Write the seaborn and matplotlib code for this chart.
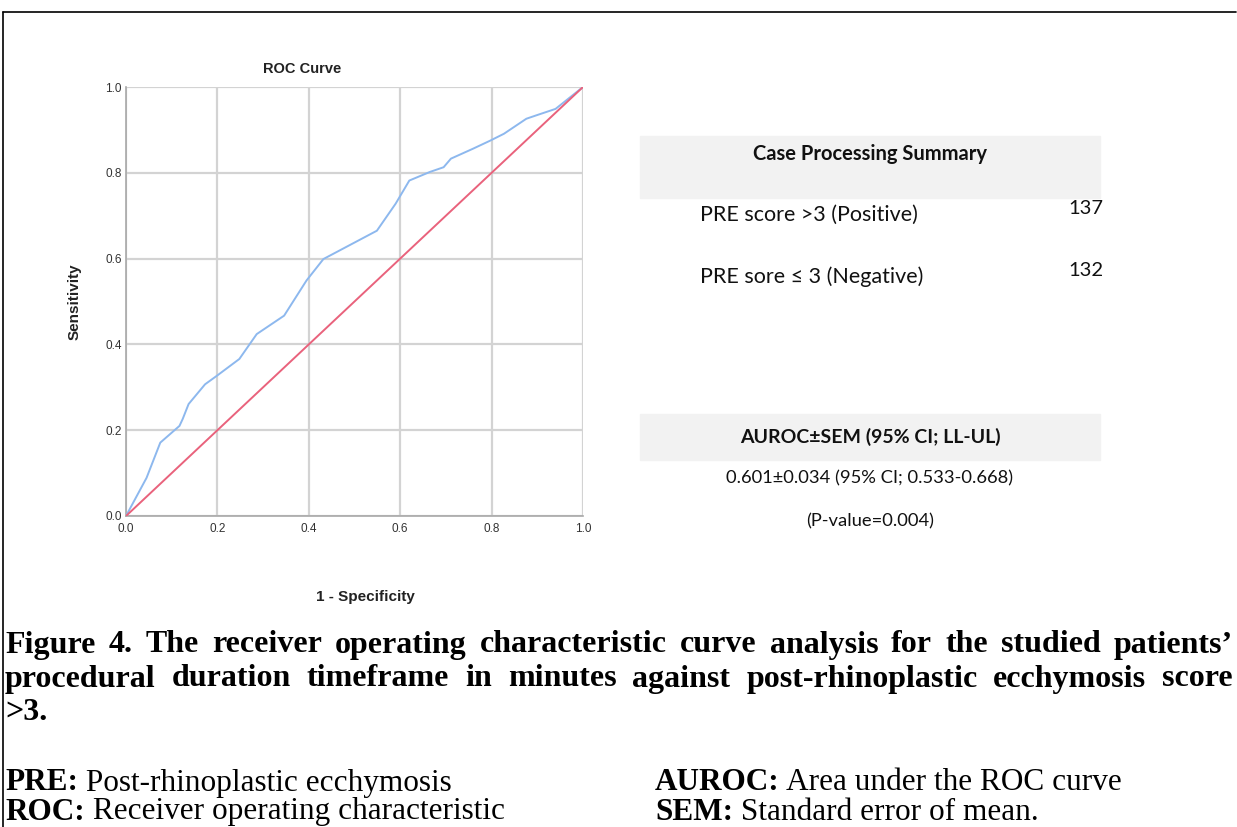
import numpy as np
import pandas as pd
import matplotlib
matplotlib.use("Agg")
import matplotlib.pyplot as plt
import seaborn as sns

# ---------------- data ----------------
fpr = [0.0, 0.045, 0.075, 0.117, 0.124, 0.137, 0.173, 0.199, 0.248, 0.286, 0.346,
       0.395, 0.432, 0.549, 0.590, 0.620, 0.665, 0.695, 0.711, 0.759, 0.797, 0.827,
       0.876, 0.898, 0.940, 1.0]
tpr = [0.0, 0.089, 0.171, 0.210, 0.226, 0.261, 0.307, 0.327, 0.366, 0.424, 0.467,
       0.549, 0.599, 0.665, 0.728, 0.782, 0.802, 0.813, 0.833, 0.856, 0.875, 0.891,
       0.926, 0.934, 0.949, 1.0]
ref_x = [0.0, 1.0]
ref_y = [0.0, 1.0]
ticks = [0.0, 0.2, 0.4, 0.6, 0.8, 1.0]
tick_labels = ["0.0", "0.2", "0.4", "0.6", "0.8", "1.0"]

summary_rows = ["PRE score >3 (Positive)", "PRE sore \u2264 3 (Negative)"]
summary_counts = ["137", "132"]
auroc_header = "AUROC\u00b1SEM (95% CI; LL-UL)"
auroc_lines = ["0.601\u00b10.034 (95% CI; 0.533-0.668)", "(P-value=0.004)"]

caption_lines = [
    "Figure 4. The receiver operating characteristic curve analysis for the studied patients\u2019",
    "procedural duration timeframe in minutes against post-rhinoplastic ecchymosis score",
    ">3.",
]
abbrevs = [("PRE:", " Post-rhinoplastic ecchymosis"),
           ("ROC:", " Receiver operating characteristic"),
           ("AUROC:", " Area under the ROC curve"),
           ("SEM:", " Standard error of mean.")]

# ---------------- figure ----------------
W, H = 1237, 827
sns.set_theme(style="white")
plt.rcParams['font.family'] = ['Liberation Sans', 'DejaVu Sans']
fig = plt.figure(figsize=(W / 100, H / 100), dpi=100)
fig.patch.set_facecolor("white")

def fx(px):
    return px / W

def fy(py):
    return 1 - py / H

ax_l, ax_r, ax_t, ax_b = 126, 583, 87, 516
ax = fig.add_axes([fx(ax_l), fy(ax_b), fx(ax_r) - fx(ax_l), fy(ax_t) - fy(ax_b)])
roc_df = pd.DataFrame({"fpr": fpr, "tpr": tpr})
ref_df = pd.DataFrame({"x": ref_x, "y": ref_y})
sns.lineplot(data=roc_df, x="fpr", y="tpr", ax=ax, color="#8db8ee", linewidth=1.4,
             sort=False, estimator=None, zorder=3)
sns.lineplot(data=ref_df, x="x", y="y", ax=ax, color="#e9627c", linewidth=1.4,
             sort=False, estimator=None, zorder=4)
ax.set_xlim(0, 1)
ax.set_ylim(0, 1)
ax.set_xticks(ticks)
ax.set_yticks(ticks)
ax.set_xticklabels(tick_labels, fontsize=8.5, color="#333333")
ax.set_yticklabels(tick_labels, fontsize=8.5, color="#333333")
ax.tick_params(axis="x", length=0, pad=5)
ax.tick_params(axis="y", length=0, pad=3)
ax.grid(True, color="#d3d3d3", linewidth=1.6)
ax.set_axisbelow(True)
for s in ["top", "right"]:
    ax.spines[s].set_visible(False)
for s in ["left", "bottom"]:
    ax.spines[s].set_color("#a8a8a8")
    ax.spines[s].set_linewidth(1.2)
ax.set_xlabel("1 - Specificity", fontsize=11, fontweight="bold", color="#222222")
ax.set_ylabel("Sensitivity", fontsize=11, fontweight="bold", color="#222222")
ax.xaxis.set_label_coords((365 - ax_l) / (ax_r - ax_l), -(597 - ax_b) / (ax_b - ax_t))
ax.yaxis.set_label_coords(-(ax_l - 75) / (ax_r - ax_l), 0.5)
ax.xaxis.label.set_va("center")
ax.yaxis.label.set_va("center")
fig.text(fx(302), fy(69), "ROC Curve", ha="center", va="center", fontsize=10.5,
         fontweight="bold", color="#222222")

# ---------------- right-hand tables ----------------
band_kw = dict(transform=fig.transFigure, color="#f2f2f2", zorder=0)
fig.patches.append(plt.Rectangle((fx(640), fy(198)), fx(1100) - fx(640), fy(136) - fy(198), **band_kw))
fig.patches.append(plt.Rectangle((fx(640), fy(460)), fx(1100) - fx(640), fy(414) - fy(460), **band_kw))
tfam = ['Lato', 'DejaVu Sans']
fig.text(fx(870), fy(154), "Case Processing Summary", ha="center", va="center",
         fontsize=14.5, fontweight="bold", family=tfam, color="#111111")
row_y = [215, 277]
cnt_y = [209, 271]
for lab, cnt, yy, cy in zip(summary_rows, summary_counts, row_y, cnt_y):
    fig.text(fx(700), fy(yy), lab, ha="left", va="center", fontsize=15.5, family=tfam, color="#111111")
    fig.text(fx(1068), fy(cy), cnt, ha="left", va="center", fontsize=14.5, family=tfam, color="#111111")
fig.text(fx(870), fy(437), auroc_header, ha="center", va="center",
         fontsize=14, fontweight="bold", family=tfam, color="#111111")
for txt, yy in zip(auroc_lines, [478, 521]):
    fig.text(fx(870), fy(yy), txt, ha="center", va="center", fontsize=13.2, family=tfam, color="#111111")

# ---------------- caption ----------------
serif = ['Liberation Serif', 'DejaVu Serif']
cap_size = 23
fig.canvas.draw()
renderer = fig.canvas.get_renderer()

def text_width(s, **kw):
    t = fig.text(0, 0, s, **kw)
    w = t.get_window_extent(renderer).width
    t.remove()
    return w

def justified(line, y, x0, x1, **kw):
    words = line.split(" ")
    widths = [text_width(w, **kw) for w in words]
    gap = (x1 - x0 - sum(widths)) / (len(words) - 1)
    x = x0
    for w, wd in zip(words, widths):
        fig.text(fx(x), fy(y), w, ha="left", va="center", **kw)
        x += wd + gap

cap_kw = dict(fontsize=cap_size, fontweight="bold", family=serif, color="black")
justified(caption_lines[0], 645, 5, 1233, **cap_kw)
justified(caption_lines[1], 679, 5, 1233, **cap_kw)
fig.text(fx(5), fy(713), caption_lines[2], ha="left", va="center", **cap_kw)

foot_size = 22.5
foot_kw = dict(fontsize=foot_size, fontweight="bold", family=serif, color="black")
ab_pos = [(5, 783), (5, 812), (655, 783), (655, 812)]
for (b, r), (x, y) in zip(abbrevs, ab_pos):
    bw = text_width(b, **foot_kw)
    fig.text(fx(x), fy(y), b, ha="left", va="center", **foot_kw)
    fig.text(fx(x + bw), fy(y), r, ha="left", va="center", fontsize=foot_size,
             family=serif, color="black")

# ---------------- page border ----------------
fig.add_artist(plt.Line2D([fx(3), fx(1236)], [fy(12), fy(12)], transform=fig.transFigure,
                          color="black", linewidth=1.2))
fig.add_artist(plt.Line2D([fx(3), fx(3)], [fy(12), fy(827)], transform=fig.transFigure,
                          color="black", linewidth=1.2))

fig.savefig("out.png", dpi=100, facecolor="white")
